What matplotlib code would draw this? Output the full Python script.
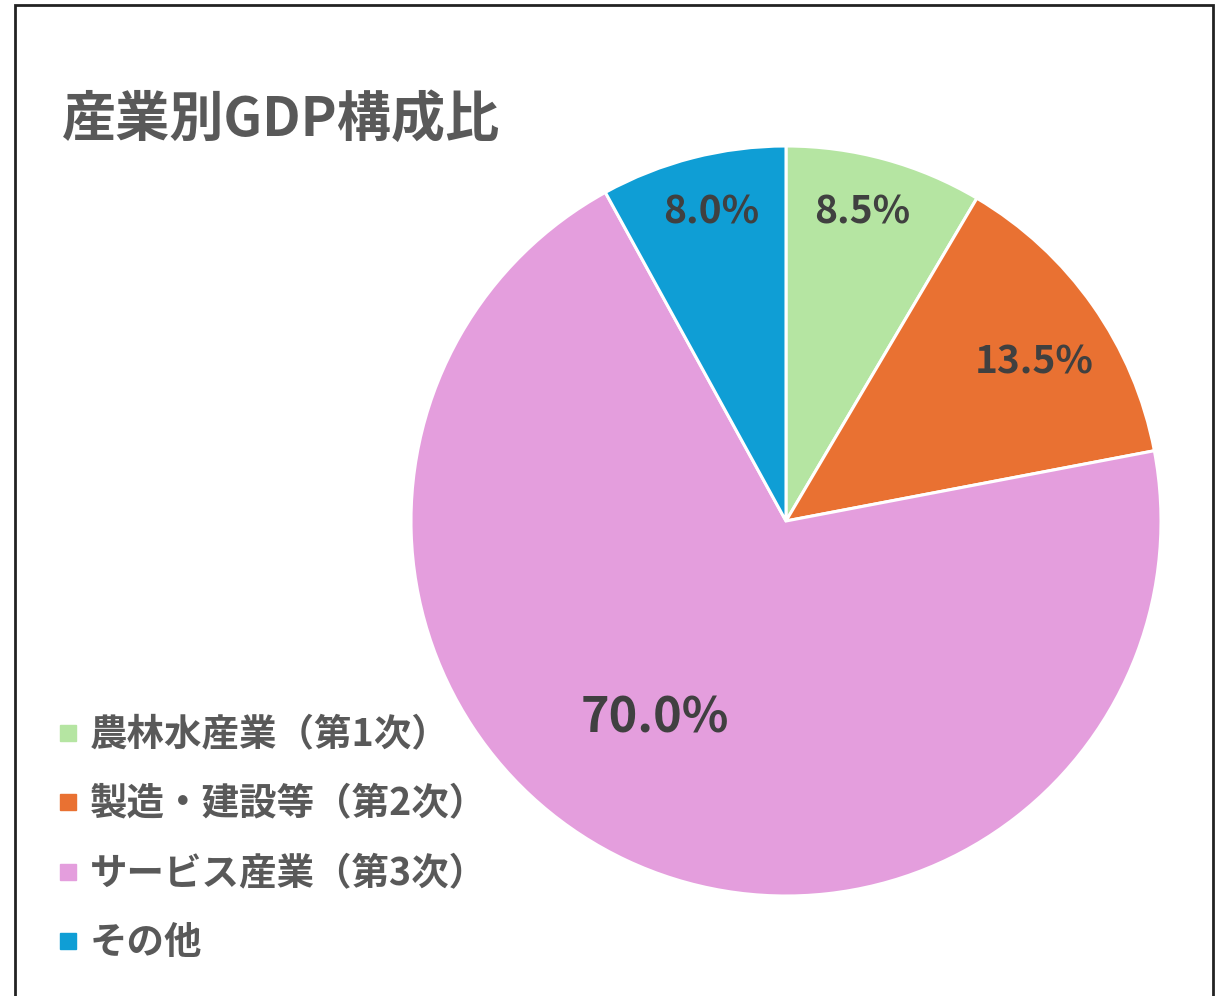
import matplotlib
matplotlib.use("Agg")
import matplotlib.pyplot as plt
from matplotlib.patches import Rectangle
from matplotlib.lines import Line2D
import numpy as np

plt.rcParams['font.family'] = ['Noto Sans CJK JP', 'DejaVu Sans']

title = "産業別GDP構成比"
categories = ["農林水産業（第1次）", "製造・建設等（第2次）", "サービス産業（第3次）", "その他"]
values = [8.5, 13.5, 70.0, 8.0]
colors = ["#B5E5A2", "#E97132", "#E49EDD", "#0F9ED5"]
label_dist = [0.848, 0.787, 0.63, 0.848]
label_ang_off = [1.5, -2.5, -8.4, -0.8]
label_size = [28, 28, 35, 28]

W, H = 1216, 996
fig = plt.figure(figsize=(W / 100, H / 100), dpi=100)

cx, cy, R = 786, 521, 375
ax = fig.add_axes([(cx - R) / W, (H - cy - R) / H, 2 * R / W, 2 * R / H])
wedges, _ = ax.pie(values, colors=colors, startangle=90, counterclock=False,
                   wedgeprops=dict(edgecolor="white", linewidth=2.2))
ax.set_xlim(-1, 1)
ax.set_ylim(-1, 1)
ax.set_aspect('auto')
ax.axis('off')

for w, v, d, o, s in zip(wedges, values, label_dist, label_ang_off, label_size):
    ang = np.deg2rad((w.theta1 + w.theta2) / 2 + o)
    ax.text(d * np.cos(ang), d * np.sin(ang), f"{v:.1f}%", ha='center', va='center',
            fontsize=s, fontweight='bold', color='#404040')

fig.text(62 / W, 1 - 120 / H, title, fontsize=39, fontweight='bold', color='#595959',
         ha='left', va='center')

handles = [Line2D([], [], marker='s', ls='', color=c, markersize=12) for c in colors]
leg = fig.legend(handles, categories, loc='upper left',
                 bbox_to_anchor=(57 / W, 1 - 715 / H), frameon=False,
                 prop=dict(size=27, weight='bold'), labelcolor='#595959',
                 handlelength=0.6, handletextpad=0.27, labelspacing=0.81,
                 borderpad=0, borderaxespad=0)

fig.patches.append(Rectangle((15 / W, -0.1), (1213 - 15) / W, (H - 5) / H + 0.1,
                             transform=fig.transFigure, fill=False, lw=2, ec='#222222'))

fig.savefig("out.png", dpi=100)
